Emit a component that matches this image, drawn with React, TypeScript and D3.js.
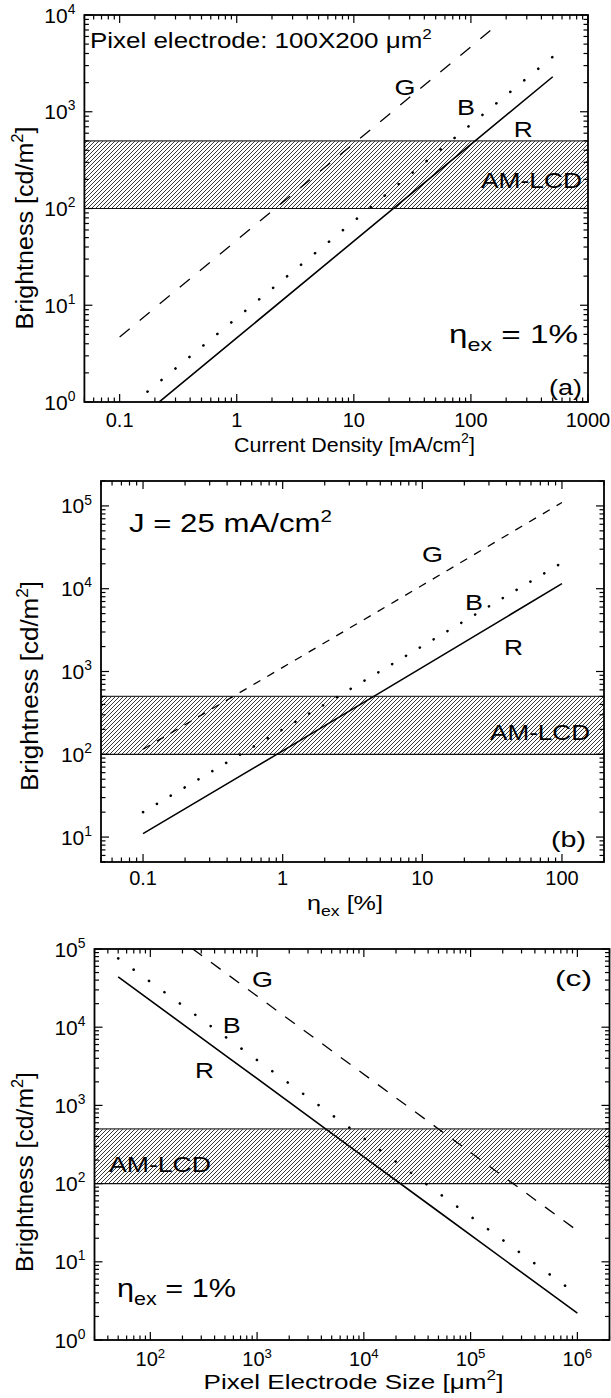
import React from "react";
import * as d3 from "d3";

const FONT = "Arial, 'Liberation Sans', Helvetica, sans-serif";

// ---------- Panel (a): brightness vs current density (eta_ex = 1%) ----------
const aCurrentDensity = [0.1, 1, 10, 100, 500];
const aBrightnessR = [0.46, 4.6, 46, 460, 2300];
const aBrightnessB = [0.74, 7.4, 74, 740, 3700];
const aCurrentDensityG = [0.1, 1, 10, 100, 165];
const aBrightnessG = [4.7, 47, 470, 4700, 7800];
const aXTickValues = [0.1, 1, 10, 100, 1000];
const aXTickLabels = ["0.1", "1", "10", "100", "1000"];
const aYExponents = [0, 1, 2, 3, 4];

// ---------- Panel (b): brightness vs eta_ex (J = 25 mA/cm2) ----------
const bEta = [0.1, 1, 10, 100];
const bBrightnessR = [11, 110, 1120, 11500];
const bBrightnessB = [20, 200, 2030, 20600];
const bBrightnessG = [115, 1120, 11000, 110000];
const bXTickValues = [0.1, 1, 10, 100];
const bXTickLabels = ["0.1", "1", "10", "100"];
const bYExponents = [1, 2, 3, 4, 5];

// ---------- Panel (c): brightness vs pixel electrode size ----------
const cPixelSize = [50, 500, 5000, 50000, 500000, 1000000];
const cBrightnessR = [44000, 4400, 440, 44, 4.4, 2.2];
const cBrightnessB = [76000, 7600, 760, 76, 7.6, 3.8];
const cBrightnessG = [500000, 50000, 5000, 500, 50, 25];
const cXExponents = [2, 3, 4, 5, 6];
const cYExponents = [0, 1, 2, 3, 4, 5];

// AM-LCD brightness band
const bandRange = [100, 500];

type Seg = { t: string; kind?: "sup" | "sub" };

let measureCtx: CanvasRenderingContext2D | null = null;
function measure(text: string, size: number): number {
  if (!measureCtx) {
    const c = document.createElement("canvas");
    measureCtx = c.getContext("2d");
  }
  if (!measureCtx) return text.length * size * 0.55;
  measureCtx.font = `${size}px ${FONT}`;
  return measureCtx.measureText(text).width;
}

function segSize(s: Seg, size: number) {
  if (s.kind === "sup") return size * 0.66;
  if (s.kind === "sub") return size * 0.7;
  return size;
}

function Rich(props: {
  x: number; y: number; size: number; segs: Seg[];
  anchor?: string; rot?: number; len?: number;
}) {
  const { x, y, size, segs, anchor = "start", rot = 0, len } = props;
  let cur = 0;
  const spans = segs.map((s, i) => {
    let target = 0;
    if (s.kind === "sup") target = -size * 0.42;
    if (s.kind === "sub") target = size * 0.3;
    const dy = target - cur;
    cur = target;
    return (
      <tspan key={i} dy={dy} fontSize={segSize(s, size)}>{s.t}</tspan>
    );
  });
  let sx = 1;
  if (len) {
    const natural = segs.reduce((acc, s) => acc + measure(s.t, segSize(s, size)), 0);
    if (natural > 0) sx = len / natural;
  }
  return (
    <g transform={`translate(${x},${y}) rotate(${rot}) scale(${sx},1)`}>
      <text
        x={0}
        y={0}
        fontSize={size}
        fontFamily={FONT}
        textAnchor={anchor}
        fill="#000"
      >
        {spans}
      </text>
    </g>
  );
}

type Series = { xs: number[]; ys: number[]; style: "solid" | "dash" | "dot" };
type Ann = { x: number; y: number; size: number; segs: Seg[]; anchor?: string; rot?: number; len?: number };

type PanelProps = {
  id: string;
  xDomain: [number, number];
  yDomain: [number, number];
  left: number; right: number; top: number; bottom: number;
  xTicks: { v: number; segs: Seg[] }[];
  yTicks: { v: number; segs: Seg[] }[];
  xLabelY: number;
  series: Series[];
  dash: string;
  dotGap: number;
  anns: Ann[];
};

function logTicks(domain: [number, number]) {
  const out: { v: number; major: boolean }[] = [];
  const d0 = Math.floor(Math.log10(domain[0])) - 1;
  const d1 = Math.ceil(Math.log10(domain[1])) + 1;
  for (let d = d0; d <= d1; d++) {
    for (let k = 1; k <= 9; k++) {
      const v = k * Math.pow(10, d);
      if (v >= domain[0] * 0.999 && v <= domain[1] * 1.001) out.push({ v, major: k === 1 });
    }
  }
  return out;
}

function Panel(p: PanelProps) {
  const x = d3.scaleLog().domain(p.xDomain).range([p.left, p.right]);
  const y = d3.scaleLog().domain(p.yDomain).range([p.bottom, p.top]);
  const line = d3.line<[number, number]>().x((d) => x(d[0])).y((d) => y(d[1]));
  const xm = logTicks(p.xDomain);
  const ym = logTicks(p.yDomain);
  const MAJ = 8, MIN = 4.5;
  const clipId = `clip-${p.id}`;
  const patId = `hatch-${p.id}`;
  const yb0 = y(bandRange[1]);
  const yb1 = y(bandRange[0]);
  return (
    <g>
      <defs>
        <clipPath id={clipId}>
          <rect x={p.left} y={p.top} width={p.right - p.left} height={p.bottom - p.top} />
        </clipPath>
        <pattern id={patId} patternUnits="userSpaceOnUse" width={4} height={4}>
          <rect width={4} height={4} fill="#fff" />
          <path d="M-1,5 L5,-1 M-1,1 L1,-1 M3,5 L5,3" stroke="#222" strokeWidth={0.9} />
        </pattern>
      </defs>
      {/* hatched AM-LCD band */}
      <rect x={p.left} y={yb0} width={p.right - p.left} height={yb1 - yb0} fill={`url(#${patId})`} />
      <line x1={p.left} x2={p.right} y1={yb0} y2={yb0} stroke="#333" strokeWidth={1.2} />
      <line x1={p.left} x2={p.right} y1={yb1} y2={yb1} stroke="#111" strokeWidth={1.2} />
      {/* series */}
      <g clipPath={`url(#${clipId})`}>
        {p.series.map((s, i) => {
          const pts = s.xs.map((v, j) => [v, s.ys[j]] as [number, number]);
          const common = { d: line(pts) || "", fill: "none", stroke: "#000" };
          if (s.style === "solid") return <path key={i} {...common} strokeWidth={1.6} />;
          if (s.style === "dash") return <path key={i} {...common} strokeWidth={1.3} strokeDasharray={p.dash} />;
          return <path key={i} {...common} strokeWidth={2.6} strokeLinecap="round" strokeDasharray={`0.1,${p.dotGap}`} />;
        })}
      </g>
      {/* ticks (inward, all four sides) */}
      {xm.map((t, i) => {
        const xx = x(t.v);
        const L = t.major ? MAJ : MIN;
        return (
          <g key={`xt${i}`} stroke="#000" strokeWidth={1.2}>
            <line x1={xx} x2={xx} y1={p.bottom} y2={p.bottom - L} />
            <line x1={xx} x2={xx} y1={p.top} y2={p.top + L} />
          </g>
        );
      })}
      {ym.map((t, i) => {
        const yy = y(t.v);
        const L = t.major ? MAJ : MIN;
        return (
          <g key={`yt${i}`} stroke="#000" strokeWidth={1.2}>
            <line x1={p.left} x2={p.left + L} y1={yy} y2={yy} />
            <line x1={p.right} x2={p.right - L} y1={yy} y2={yy} />
          </g>
        );
      })}
      <rect x={p.left} y={p.top} width={p.right - p.left} height={p.bottom - p.top} fill="none" stroke="#000" strokeWidth={1.8} />
      {/* tick labels */}
      {p.xTicks.map((t, i) => (
        <Rich key={`xl${i}`} x={x(t.v)} y={p.xLabelY} size={20} segs={t.segs} anchor="middle" />
      ))}
      {p.yTicks.map((t, i) => (
        <Rich key={`yl${i}`} x={p.left - 9} y={y(t.v) + 7.5} size={21} segs={t.segs} anchor="end" />
      ))}
      {p.anns.map((a, i) => (
        <Rich key={`an${i}`} {...a} />
      ))}
    </g>
  );
}

const pow10 = (e: number) => ({ v: Math.pow(10, e), segs: [{ t: "10" }, { t: String(e), kind: "sup" as const }] });
const plain = (vals: number[], labels: string[]) => vals.map((v, i) => ({ v, segs: [{ t: labels[i] }] }));

const brightnessTitle: Seg[] = [{ t: "Brightness [cd/m" }, { t: "2", kind: "sup" }, { t: "]" }];
const etaLabel: Seg[] = [{ t: "η" }, { t: "ex", kind: "sub" }, { t: " = 1%" }];

export default function App() {
  return (
    <svg
      width={611}
      height={1398}
      viewBox="0 0 611 1398"
      style={{ position: "absolute", left: 0, top: 0, background: "#fff" }}
    >
      <rect width={611} height={1398} fill="#fff" />
      <Panel
        id="a"
        xDomain={[0.05, 1000]}
        yDomain={[1, 10000]}
        left={84.4} right={588} top={15} bottom={402}
        xTicks={plain(aXTickValues, aXTickLabels)}
        yTicks={aYExponents.map(pow10)}
        xLabelY={427}
        dash="13,13"
        dotGap={18}
        series={[
          { xs: aCurrentDensityG, ys: aBrightnessG, style: "dash" },
          { xs: aCurrentDensity, ys: aBrightnessB, style: "dot" },
          { xs: aCurrentDensity, ys: aBrightnessR, style: "solid" },
        ]}
        anns={[
          { x: 90, y: 48, size: 22, len: 342, segs: [{ t: "Pixel electrode: 100X200 μm" }, { t: "2", kind: "sup" }] },
          { x: 394.5, y: 95, size: 22, len: 21, segs: [{ t: "G" }] },
          { x: 457, y: 115, size: 22, len: 18, segs: [{ t: "B" }] },
          { x: 513.7, y: 137, size: 22, len: 19, segs: [{ t: "R" }] },
          { x: 582, y: 188, size: 22, len: 101, anchor: "end", segs: [{ t: "AM-LCD" }] },
          { x: 449, y: 343, size: 25, len: 129, segs: etaLabel },
          { x: 582, y: 395, size: 22, len: 33, anchor: "end", segs: [{ t: "(a)" }] },
          { x: 354.5, y: 452, size: 21, len: 241, anchor: "middle", segs: [{ t: "Current Density [mA/cm" }, { t: "2", kind: "sup" }, { t: "]" }] },
          { x: 33, y: 228, size: 24.5, len: 203, rot: -90, anchor: "middle", segs: brightnessTitle },
        ]}
      />
      <Panel
        id="b"
        xDomain={[0.05, 200]}
        yDomain={[5, 200000]}
        left={101} right={604} top={481} bottom={862}
        xTicks={plain(bXTickValues, bXTickLabels)}
        yTicks={bYExponents.map(pow10)}
        xLabelY={885}
        dash="8,8"
        dotGap={16}
        series={[
          { xs: bEta, ys: bBrightnessG, style: "dash" },
          { xs: bEta, ys: bBrightnessB, style: "dot" },
          { xs: bEta, ys: bBrightnessR, style: "solid" },
        ]}
        anns={[
          { x: 129, y: 532, size: 25, len: 203, segs: [{ t: "J = 25 mA/cm" }, { t: "2", kind: "sup" }] },
          { x: 422, y: 562, size: 22, len: 21, segs: [{ t: "G" }] },
          { x: 465, y: 610, size: 22, len: 18, segs: [{ t: "B" }] },
          { x: 504, y: 655, size: 22, len: 19, segs: [{ t: "R" }] },
          { x: 590, y: 740, size: 22, len: 100, anchor: "end", segs: [{ t: "AM-LCD" }] },
          { x: 586, y: 847, size: 22, len: 35, anchor: "end", segs: [{ t: "(b)" }] },
          { x: 345, y: 910, size: 21, len: 76, anchor: "middle", segs: [{ t: "η" }, { t: "ex", kind: "sub" }, { t: " [%]" }] },
          { x: 38, y: 686, size: 24.5, len: 210, rot: -90, anchor: "middle", segs: brightnessTitle },
        ]}
      />
      <Panel
        id="c"
        xDomain={[30, 2000000]}
        yDomain={[1, 100000]}
        left={94.5} right={609.5} top={949} bottom={1340}
        xTicks={cXExponents.map(pow10)}
        yTicks={cYExponents.map(pow10)}
        xLabelY={1366}
        dash="12,11"
        dotGap={19}
        series={[
          { xs: cPixelSize, ys: cBrightnessG, style: "dash" },
          { xs: cPixelSize, ys: cBrightnessB, style: "dot" },
          { xs: cPixelSize, ys: cBrightnessR, style: "solid" },
        ]}
        anns={[
          { x: 252, y: 987, size: 22, len: 21, segs: [{ t: "G" }] },
          { x: 592, y: 986, size: 22, len: 37, anchor: "end", segs: [{ t: "(c)" }] },
          { x: 222.7, y: 1033, size: 22, len: 18, segs: [{ t: "B" }] },
          { x: 195, y: 1078, size: 22, len: 19, segs: [{ t: "R" }] },
          { x: 109, y: 1172, size: 22, len: 102, segs: [{ t: "AM-LCD" }] },
          { x: 117, y: 1297, size: 25, len: 119, segs: etaLabel },
          { x: 353.5, y: 1389, size: 21, len: 300, anchor: "middle", segs: [{ t: "Pixel Electrode Size [μm" }, { t: "2", kind: "sup" }, { t: "]" }] },
          { x: 33, y: 1172, size: 24.5, len: 200, rot: -90, anchor: "middle", segs: brightnessTitle },
        ]}
      />
    </svg>
  );
}
